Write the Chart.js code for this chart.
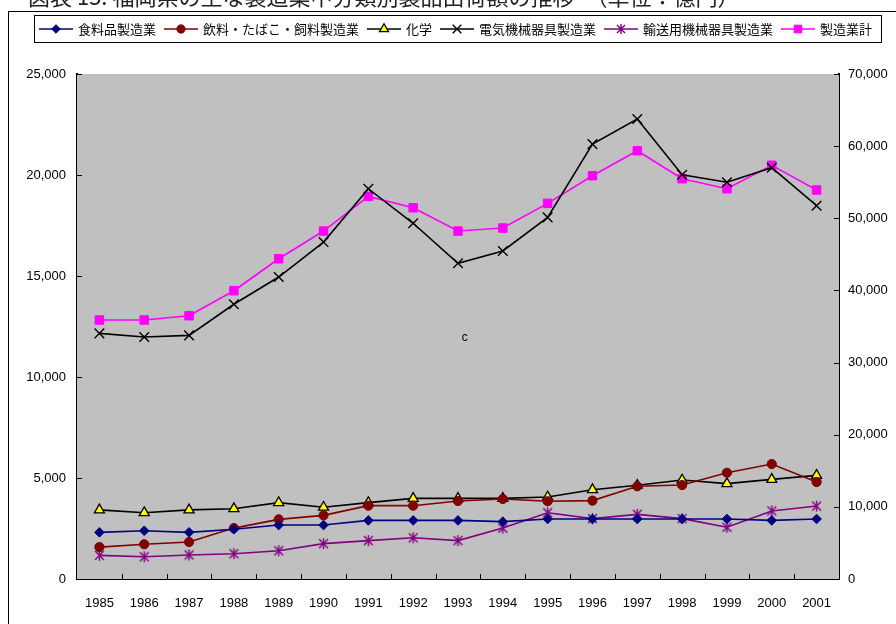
<!DOCTYPE html>
<html>
<head>
<meta charset="utf-8">
<script src="https://cdn.jsdelivr.net/npm/chart.js@4.4.1/dist/chart.umd.min.js"></script>
<style>
  html, body { margin: 0; padding: 0; background: #ffffff; overflow: hidden; }
  canvas { display: block; }
</style>
</head>
<body>
<canvas id="chart" width="896" height="624"></canvas>
<script>
// Categories and series (億円)
const years = ['1985','1986','1987','1988','1989','1990','1991','1992','1993','1994','1995','1996','1997','1998','1999','2000','2001'];
const food      = [2310, 2390, 2310, 2460, 2670, 2670, 2900, 2900, 2900, 2840, 2970, 2970, 2970, 2970, 2970, 2900, 2970];
const beverage  = [1580, 1720, 1830, 2520, 2950, 3150, 3630, 3630, 3860, 3960, 3850, 3880, 4590, 4650, 5260, 5690, 4800];
const chemical  = [3420, 3280, 3420, 3480, 3780, 3550, 3780, 3990, 3990, 3990, 4060, 4420, 4640, 4900, 4720, 4930, 5130];
const electric  = [12160, 11980, 12060, 13600, 14950, 16680, 19320, 17610, 15630, 16240, 17900, 21530, 22770, 20010, 19640, 20360, 18480];
const transport = [1170, 1100, 1190, 1250, 1400, 1750, 1900, 2040, 1900, 2520, 3280, 2990, 3200, 2990, 2560, 3370, 3610];
const total     = [35900, 35900, 36490, 39960, 44390, 48230, 53040, 51460, 48230, 48650, 52070, 55900, 59360, 55480, 54100, 57340, 53920];

const seriesNames = ['食料品製造業', '飲料・たばこ・飼料製造業', '化学', '電気機械器具製造業', '輸送用機械器具製造業', '製造業計'];
const leftTicks  = [0, 5000, 10000, 15000, 20000, 25000];
const rightTicks = [0, 10000, 20000, 30000, 40000, 50000, 60000, 70000];
const titleText = '図表 15. 福岡県の主な製造業中分類別製品出荷額の推移　（単位：億円）';
const noteText = 'c';

const JP = '"Noto Sans CJK JP", "Noto Sans", sans-serif';
const NUM = '"Liberation Sans", Arial, sans-serif';

// Asterisk marker: an X with a vertical stroke
function asteriskMarker(color, size) {
  const c = document.createElement('canvas');
  c.width = size; c.height = size;
  const g = c.getContext('2d');
  const m = size / 2, r = size / 2 - 1;
  g.strokeStyle = color; g.lineWidth = 1.4;
  g.beginPath();
  g.moveTo(m - r * 0.8, m - r * 0.8); g.lineTo(m + r * 0.8, m + r * 0.8);
  g.moveTo(m + r * 0.8, m - r * 0.8); g.lineTo(m - r * 0.8, m + r * 0.8);
  g.moveTo(m, m - r); g.lineTo(m, m + r);
  g.stroke();
  return c;
}
const starBig = asteriskMarker('#800080', 13);
const starSmall = asteriskMarker('#800080', 12);

function series(label, data, line, style, fill, border, radius, bw, axis, legendStyle) {
  return {
    label, data, yAxisID: axis,
    borderColor: line, borderWidth: 1.6, tension: 0,
    pointStyle: style, pointRadius: radius, pointHoverRadius: radius,
    pointBackgroundColor: fill, pointBorderColor: border, pointBorderWidth: bw,
    legendStyle: legendStyle || style
  };
}

const datasets = [
  series(seriesNames[0], food, '#000080', 'rectRot', '#000080', '#000080', 4.8, 1, 'y'),
  series(seriesNames[1], beverage, '#800000', 'circle', '#800000', '#800000', 4.6, 1, 'y'),
  series(seriesNames[2], chemical, '#000000', 'triangle', '#FFFF00', '#000000', 5.8, 1.3, 'y'),
  series(seriesNames[3], electric, '#000000', 'crossRot', '#000000', '#000000', 6.8, 1.4, 'y'),
  series(seriesNames[4], transport, '#800080', starBig, '#800080', '#800080', 6, 1, 'y', starSmall),
  series(seriesNames[5], total, '#FF00FF', 'rect', '#FF00FF', '#FF00FF', 6, 1, 'y1')
];

const fmt = v => Number(v).toLocaleString('en-US');

// Grey plot area, inner tick marks, frame, legend, title and note
const decorations = {
  id: 'decorations',
  beforeDatasetsDraw(chart) {
    const { ctx, chartArea: a } = chart;
    ctx.save();
    ctx.fillStyle = '#C0C0C0';
    ctx.fillRect(a.left, a.top, a.right - a.left, a.bottom - a.top);
    ctx.restore();
  },
  afterDraw(chart) {
    const { ctx, chartArea: a, scales } = chart;
    ctx.save();
    ctx.strokeStyle = '#000';
    ctx.lineWidth = 1;
    // inner ticks: left axis
    leftTicks.forEach(v => {
      const y = Math.round(scales.y.getPixelForValue(v)) + 0.5;
      ctx.beginPath(); ctx.moveTo(a.left, y); ctx.lineTo(a.left + 5, y); ctx.stroke();
    });
    // inner ticks: right axis
    rightTicks.forEach(v => {
      const y = Math.round(scales.y1.getPixelForValue(v)) + 0.5;
      ctx.beginPath(); ctx.moveTo(a.right - 5, y); ctx.lineTo(a.right, y); ctx.stroke();
    });
    // inner ticks between categories
    for (let i = 1; i < years.length; i++) {
      const x = Math.round((scales.x.getPixelForTick(i - 1) + scales.x.getPixelForTick(i)) / 2) + 0.5;
      ctx.beginPath(); ctx.moveTo(x, a.bottom); ctx.lineTo(x, a.bottom - 5); ctx.stroke();
    }

    // outer frame
    ctx.strokeRect(8.5, 11.5, 900, 620);

    // title (top of canvas)
    ctx.fillStyle = '#222';
    ctx.font = '22px ' + JP;
    ctx.textAlign = 'left';
    ctx.textBaseline = 'alphabetic';
    ctx.fillText(titleText, 28, 5);

    // legend box
    const lx = 34.5, ly = 15.5, lw = 847, lh = 27;
    ctx.fillStyle = '#fff';
    ctx.fillRect(lx, ly, lw, lh);
    ctx.strokeStyle = '#000';
    ctx.lineWidth = 1;
    ctx.strokeRect(lx, ly, lw, lh);
    const cy = 29;
    let x = 39;
    ctx.font = '13px ' + JP;
    ctx.textBaseline = 'middle';
    chart.data.datasets.forEach(ds => {
      ctx.strokeStyle = ds.borderColor;
      ctx.lineWidth = 1.5;
      ctx.beginPath(); ctx.moveTo(x, cy); ctx.lineTo(x + 34, cy); ctx.stroke();
      ctx.fillStyle = ds.pointBackgroundColor;
      ctx.strokeStyle = ds.pointBorderColor;
      ctx.lineWidth = ds.pointBorderWidth;
      Chart.helpers.drawPoint(ctx, {
        pointStyle: ds.legendStyle, rotation: 0,
        radius: ds.pointRadius * 0.9, borderWidth: ds.pointBorderWidth
      }, x + 17, cy);
      ctx.fillStyle = '#000';
      ctx.fillText(ds.label, x + 39, cy + 0.5);
      x += 39 + ctx.measureText(ds.label).width + 8;
    });

    // small note inside the plot
    ctx.font = '12px ' + NUM;
    ctx.textAlign = 'center';
    ctx.fillStyle = '#000';
    ctx.fillText(noteText, scales.x.getPixelForValue(8.15), scales.y.getPixelForValue(11950));
    ctx.restore();
  }
};

new Chart(document.getElementById('chart'), {
  type: 'line',
  data: { labels: years, datasets },
  options: {
    responsive: false,
    animation: false,
    devicePixelRatio: 1,
    layout: { padding: { top: 74, bottom: 0, left: 0, right: 0 } },
    plugins: { legend: { display: false }, title: { display: false }, tooltip: { enabled: false } },
    elements: { line: { fill: false } },
    scales: {
      x: {
        type: 'category',
        offset: true,
        grid: { display: false, drawTicks: false },
        border: { display: true, color: '#000', width: 2 },
        ticks: { color: '#000', font: { family: NUM, size: 13 }, padding: 17, maxRotation: 0, autoSkip: false },
        afterFit(s) { s.height = 45; }
      },
      y: {
        position: 'left',
        min: 0, max: 25000,
        grid: { display: false, drawTicks: false },
        border: { display: true, color: '#000', width: 2 },
        afterBuildTicks(s) { s.ticks = leftTicks.map(v => ({ value: v })); },
        ticks: { color: '#000', font: { family: NUM, size: 13 }, padding: 11, callback: v => fmt(v) },
        afterFit(s) { s.width = 77; }
      },
      y1: {
        position: 'right',
        min: 0, max: 70000,
        grid: { display: false, drawTicks: false },
        border: { display: true, color: '#000', width: 2 },
        afterBuildTicks(s) { s.ticks = rightTicks.map(v => ({ value: v })); },
        ticks: { color: '#000', font: { family: NUM, size: 13 }, padding: 9, callback: v => fmt(v) },
        afterFit(s) { s.width = 57; }
      }
    }
  },
  plugins: [decorations]
});
</script>
</body>
</html>
